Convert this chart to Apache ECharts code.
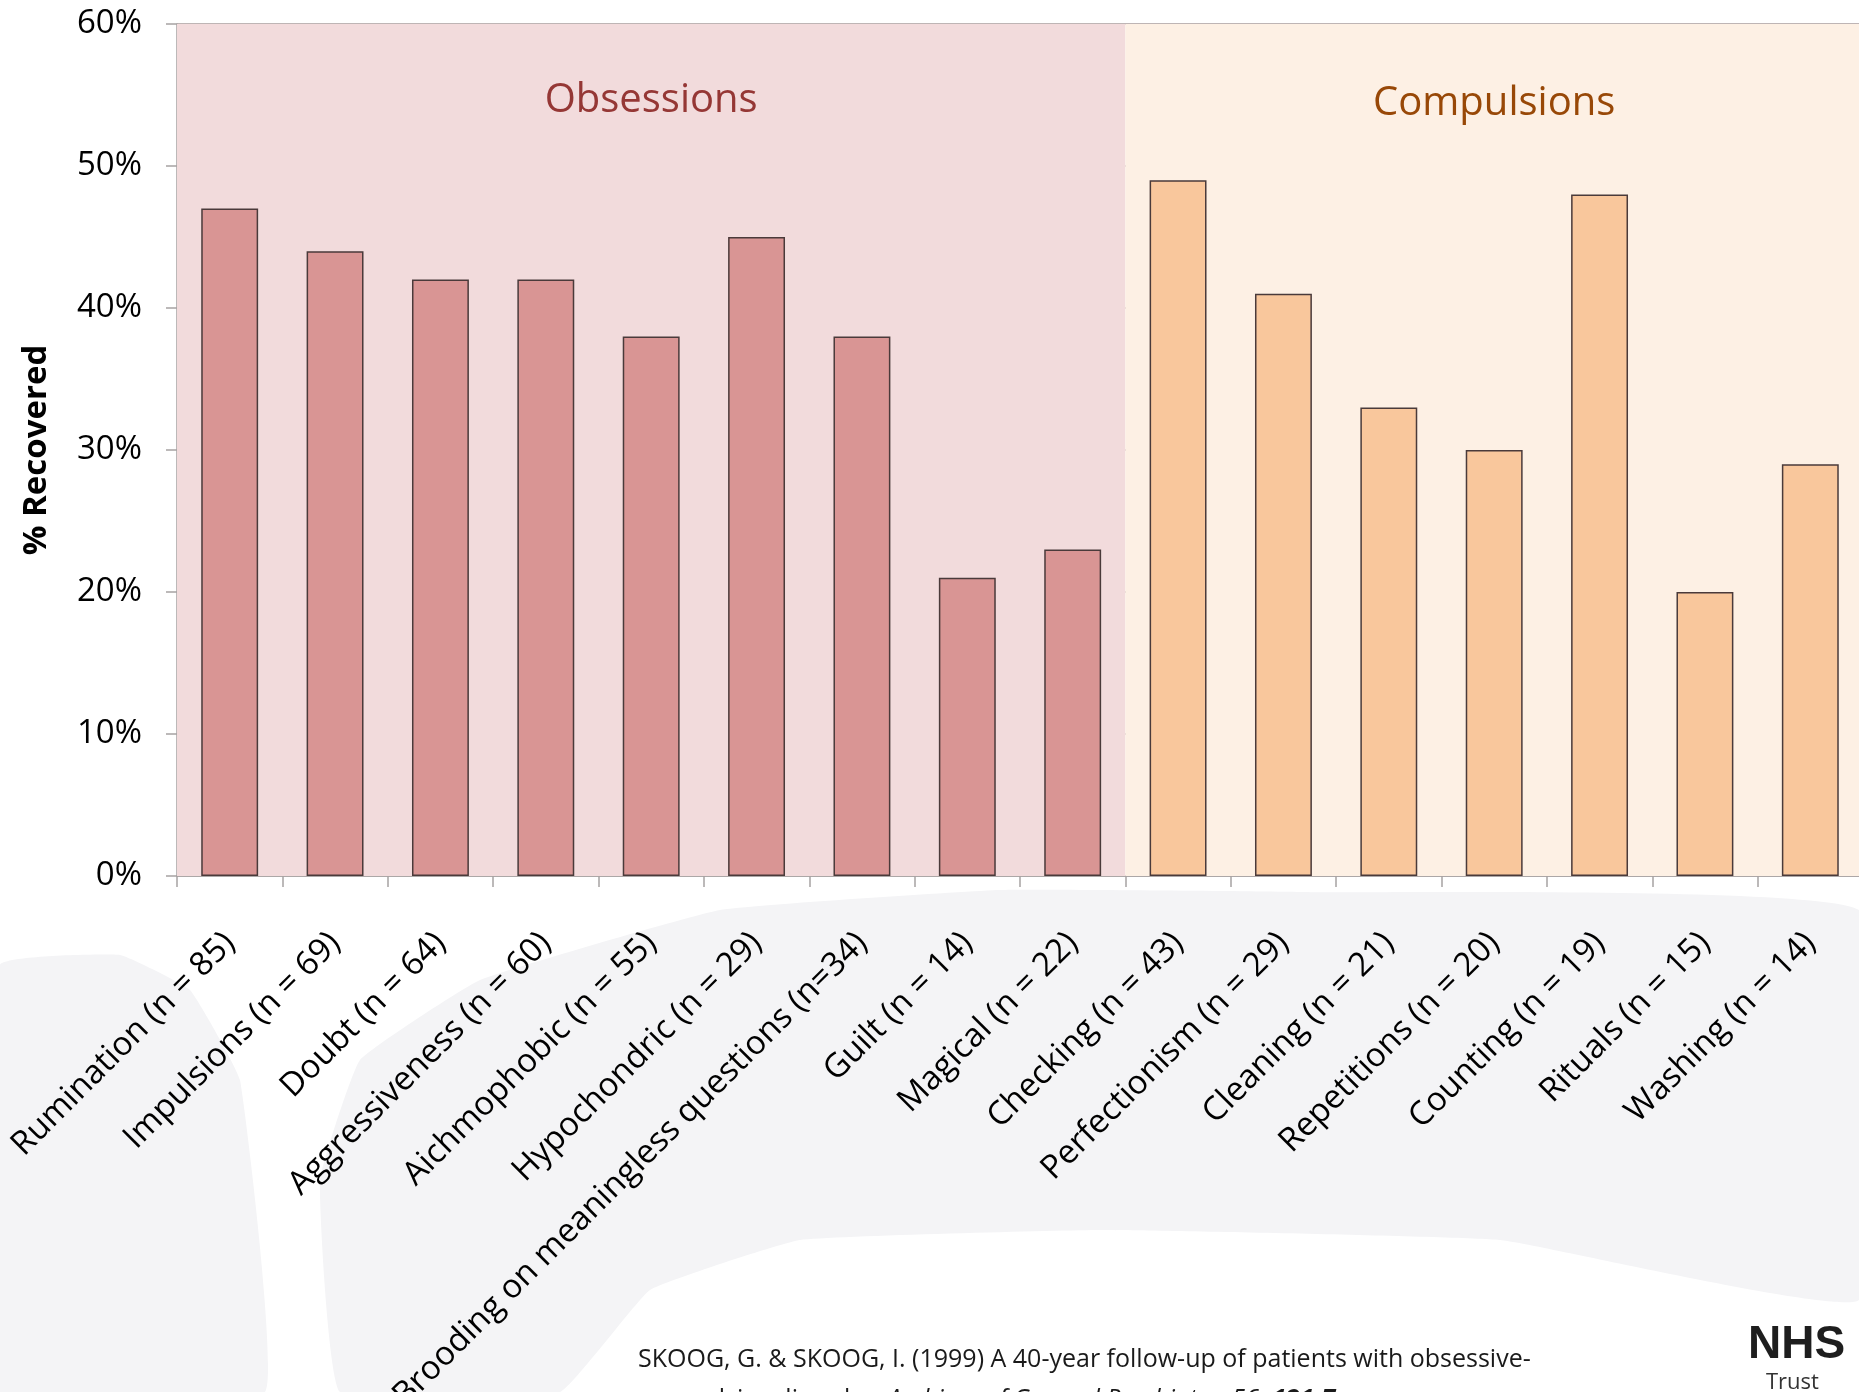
<!DOCTYPE html>
<html>
<head>
<meta charset="utf-8">
<script src="https://cdn.jsdelivr.net/npm/echarts@6/dist/echarts.min.js"></script>
<style>
html, body { margin: 0; padding: 0; background: #ffffff; overflow: hidden; }
#chart { width: 1859px; height: 1392px; }
</style>
</head>
<body>
<div id="chart"></div>
<script>
// obsessions (left group)
var obsessionLabels = [
  "Rumination (n = 85)",
  "Impulsions (n = 69)",
  "Doubt (n = 64)",
  "Aggressiveness (n = 60)",
  "Aichmophobic (n = 55)",
  "Hypochondric (n = 29)",
  "Brooding on meaningless questions (n=34)",
  "Guilt (n = 14)",
  "Magical (n = 22)"
];
var obsessionValues = [47, 44, 42, 42, 38, 45, 38, 21, 23];

// compulsions (right group)
var compulsionLabels = [
  "Checking (n = 43)",
  "Perfectionism (n = 29)",
  "Cleaning (n = 21)",
  "Repetitions (n = 20)",
  "Counting (n = 19)",
  "Rituals (n = 15)",
  "Washing (n = 14)"
];
var compulsionValues = [49, 41, 33, 30, 48, 20, 29];

var yTicks = [0, 10, 20, 30, 40, 50, 60];
var groupNames = ["Obsessions", "Compulsions"];

var categories = obsessionLabels.concat(compulsionLabels);
var nObs = obsessionLabels.length;
var nAll = categories.length;

var barData = obsessionValues.map(function (v) {
  return { value: v, itemStyle: { color: "#d99594" } };
}).concat(compulsionValues.map(function (v) {
  return { value: v, itemStyle: { color: "#f9c79c" } };
}));

var font = "'Open Sans', 'Noto Sans', sans-serif";
var axisGray = "#a6a2a2";
var texture = "#f4f4f6";

var chart = echarts.init(document.getElementById("chart"));
chart.setOption({
  backgroundColor: "#ffffff",
  animation: false,
  textStyle: { fontFamily: font },
  grid: { left: 177, top: 24, width: 1686, height: 852, outerBoundsMode: "none" },
  graphic: [
    // faint slide background texture under the axis labels
    {
      type: "polygon",
      z: -10,
      silent: true,
      shape: {
        points: [[0, 965], [120, 955], [190, 990], [240, 1080], [265, 1392], [0, 1392]],
        smooth: 0.1
      },
      style: { fill: texture }
    },
    {
      type: "polygon",
      z: -10,
      silent: true,
      shape: {
        points: [[340, 1392], [320, 1180], [360, 1060], [480, 980], [720, 910], [1000, 890],
                 [1300, 892], [1859, 910], [1859, 1300], [1500, 1240], [1100, 1230],
                 [800, 1240], [650, 1290], [560, 1392]],
        smooth: 0.1
      },
      style: { fill: texture }
    },
    {
      type: "text",
      left: 638,
      top: 1340,
      style: {
        text: "SKOOG, G. & SKOOG, I. (1999) A 40-year follow-up of patients with obsessive-\n" +
              "compulsive disorder. {i|Archives of General Psychiatry}, {i|56}, {bi|121-7}.",
        font: "25px " + font,
        fill: "#1a1a1a",
        lineHeight: 40,
        rich: {
          i: { fontStyle: "italic", fontSize: 25, fontFamily: font, fill: "#1a1a1a" },
          bi: { fontStyle: "italic", fontWeight: "bold", fontSize: 25, fontFamily: font, fill: "#1a1a1a" }
        }
      }
    },
    {
      type: "text",
      left: 1748,
      top: 1322,
      style: {
        text: "NHS",
        font: "bold 46px 'Liberation Sans Narrow', 'Liberation Sans', sans-serif",
        fill: "#1e1e1e"
      }
    },
    {
      type: "text",
      left: 1766,
      top: 1372,
      style: { text: "Trust", font: "22px " + font, fill: "#333333" }
    }
  ],
  xAxis: [
    {
      type: "category",
      data: categories,
      axisLine: { lineStyle: { color: axisGray, width: 1.5 } },
      axisTick: { show: true, length: 11, lineStyle: { color: axisGray, width: 1.5 } },
      axisLabel: {
        interval: 0,
        rotate: 45,
        margin: 62,
        fontSize: 33,
        fontFamily: font,
        color: "#000000",
        hideOverlap: false
      }
    },
    {
      type: "value",
      min: 0,
      max: nAll,
      show: false
    }
  ],
  yAxis: {
    type: "value",
    min: yTicks[0],
    max: yTicks[yTicks.length - 1],
    interval: 10,
    name: "% Recovered",
    nameLocation: "middle",
    nameRotate: 90,
    nameGap: 124,
    nameTextStyle: { fontSize: 33, fontWeight: "bold", color: "#000000", fontFamily: font },
    axisLine: { show: true, lineStyle: { color: axisGray, width: 1.5 } },
    axisTick: { show: true, length: 11, lineStyle: { color: axisGray, width: 1.5 } },
    axisLabel: { formatter: "{value}%", fontSize: 33, margin: 35, color: "#000000", fontFamily: font },
    splitLine: { lineStyle: { color: "#a89d9d", width: 1.5 } }
  },
  series: [
    {
      // background bands for the two groups
      type: "line",
      xAxisIndex: 1,
      z: -1,
      data: [],
      silent: true,
      markArea: {
        silent: true,
        data: [
          [
            {
              name: groupNames[0], xAxis: 0, yAxis: yTicks[0],
              itemStyle: { color: "#f2dbdc" },
              label: { color: "#953735", distance: 57 }
            },
            { xAxis: nObs, yAxis: yTicks[yTicks.length - 1] }
          ],
          [
            {
              name: groupNames[1], xAxis: nObs, yAxis: yTicks[0],
              itemStyle: { color: "#fdf0e4" },
              label: { color: "#984807", distance: 60 }
            },
            { xAxis: nAll, yAxis: yTicks[yTicks.length - 1] }
          ]
        ],
        label: { show: true, position: "insideTop", fontSize: 40, fontFamily: font }
      }
    },
    {
      type: "bar",
      data: barData,
      barWidth: "54%",
      itemStyle: { borderColor: "#4a3a3a", borderWidth: 1.5 }
    }
  ]
});
</script>
</body>
</html>
